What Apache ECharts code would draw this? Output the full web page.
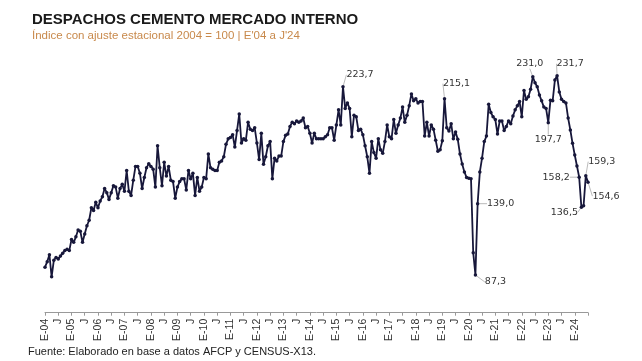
<!DOCTYPE html>
<html>
<head>
<meta charset="utf-8">
<script src="https://cdn.jsdelivr.net/npm/echarts@6/dist/echarts.min.js"></script>
<style>html,body{margin:0;padding:0;background:#fff;}#c{width:642px;height:361px;}</style>
</head>
<body>
<div id="c"></div>
<script>
// Monthly index values (seasonally adjusted, 2004 = 100), Jan 2004 - Jul 2024
const y2004 = [93, 97, 102, 86, 98, 100, 99, 101, 103, 105, 106, 105];
const y2005 = [113, 111, 115, 120, 119, 111, 117, 123, 127, 136, 134, 140];
const y2006 = [136, 141, 144, 150, 147, 142, 147, 152, 151, 143, 150, 153];
const y2007 = [148, 163, 148, 145, 156, 166, 166, 161, 150, 158, 165, 168];
const y2008 = [166, 164, 151, 181, 165, 152, 169, 159, 166, 156, 155, 143];
const y2009 = [151, 155, 157, 157, 149, 163, 157, 161, 145, 158, 148, 151];
const y2010 = [158, 157, 175, 165, 164, 163, 163, 169, 170, 173, 182, 186];
const y2011 = [187, 189, 180, 192, 204, 183, 186, 185, 198, 193, 192, 194];
const y2012 = [183, 171, 190, 167.5, 173, 181, 184, 157, 172, 170, 173.5, 173.5];
const y2013 = [184, 188.5, 189.5, 195, 198, 197, 199, 198, 199, 201, 194, 195];
const y2014 = [190, 183, 190, 186, 186, 186, 186, 187.5, 189, 194, 194, 185];
const y2015 = [196, 207, 196, 223.7, 208, 212, 208, 187.5, 203, 202, 192, 193];
const y2016 = [189, 181, 173, 161, 184, 176, 172, 186, 178, 175.5, 184, 196];
const y2017 = [187.5, 186, 200, 190, 196, 201, 209, 198, 203, 210, 218.5, 213.6];
const y2018 = [215, 212, 213, 213, 188, 198, 188, 196, 193, 185, 177, 178];
const y2019 = [184.6, 215.1, 194, 191.6, 197, 186, 191, 185.6, 175, 167.7, 162, 158];
const y2020 = [157.4, 157, 103.5, 87.3, 139.0, 162, 172, 184, 188, 211, 205, 202];
const y2021 = [200, 189.5, 199, 199, 192, 195, 199, 197, 202.5, 207, 210, 213];
const y2022 = [202, 221, 214.6, 216.5, 222, 231.0, 226.6, 223.7, 217.7, 213.5, 209, 208];
const y2023 = [197.7, 214, 213.6, 228.6, 231.7, 220, 214.6, 213, 212, 201, 192.4, 182.7];
const y2024 = [174.3, 166.3, 158.2, 136.5, 137.5, 159.3, 154.6];

const years = [2004,2005,2006,2007,2008,2009,2010,2011,2012,2013,2014,2015,2016,2017,2018,2019,2020,2021,2022,2023,2024];
const yearly = [y2004,y2005,y2006,y2007,y2008,y2009,y2010,y2011,y2012,y2013,y2014,y2015,y2016,y2017,y2018,y2019,y2020,y2021,y2022,y2023,y2024];
// tick labels: "E-yy" for January, "J" for July
const janLabel = 'E-';
const julLabel = 'J';
// indices (months from Jan 2004) of annotated points
const labeledIdx = [135, 181, 195, 196, 221, 228, 232, 242, 243, 245, 246];

// label placement offsets relative to the point (style only)
const labelOffsets = {
  135: [17, -12], 181: [12, -15], 195: [20, 7], 196: [23, 0],
  221: [-3, -13], 228: [0, 17], 232: [13, -12], 242: [-23, 0],
  243: [-17, 5], 245: [16, -14], 246: [18, 14]
};

const categories = [];
const values = [];
years.forEach((yr, k) => {
  yearly[k].forEach((v, m) => {
    const yy = String(yr).slice(2);
    categories.push(m === 0 ? janLabel + yy : (m === 6 ? julLabel : ''));
    values.push(v);
  });
});
// the axis ends at the last month without a trailing label
categories[categories.length - 1] = '';

const fmt = v => v.toFixed(1).replace('.', ',');
const seriesData = values.map((v, i) => labeledIdx.indexOf(i) >= 0
  ? { value: v, label: { show: true } }
  : v);

const chart = echarts.init(document.getElementById('c'), null, { renderer: 'canvas' });
chart.setOption({
  animation: false,
  backgroundColor: '#ffffff',
  title: [{
    text: 'DESPACHOS CEMENTO MERCADO INTERNO',
    subtext: "Índice con ajuste estacional 2004 = 100 | E'04 a J'24",
    left: 32, top: 12, itemGap: 3, padding: 0,
    textStyle: { fontFamily: 'Liberation Sans', fontSize: 15, fontWeight: 'bold', color: '#1a1a1a' },
    subtextStyle: { fontFamily: 'Liberation Sans', fontSize: 11.5, color: '#c8894b' }
  }, {
    text: 'Fuente: Elaborado en base a datos AFCP y CENSUS-X13.',
    left: 28, top: 346, padding: 0,
    textStyle: { fontFamily: 'Liberation Sans', fontSize: 11, fontWeight: 'normal', color: '#222' }
  }],
  grid: { left: 45, right: 54, top: 50.5, bottom: 48.3, containLabel: false },
  xAxis: {
    type: 'category',
    data: categories,
    boundaryGap: false,
    axisLine: { show: true, lineStyle: { color: '#999', width: 1 } },
    axisTick: { show: true, interval: 5, length: 3, lineStyle: { color: '#999' } },
    axisLabel: {
      interval: 5, rotate: 90, margin: 6,
      fontFamily: 'Liberation Sans', fontSize: 10.5, color: '#333'
    },
    splitLine: { show: false }
  },
  yAxis: {
    type: 'value', min: 60, max: 250, show: false,
    splitLine: { show: false }
  },
  series: [{
    type: 'line',
    data: seriesData,
    symbol: 'circle',
    symbolSize: 3.5,
    showSymbol: true,
    showAllSymbol: true,
    itemStyle: { color: '#17173a' },
    lineStyle: { color: '#17173a', width: 1.8 },
    label: {
      show: false,
      formatter: p => fmt(p.value),
      fontFamily: 'DejaVu Sans', fontSize: 9.5, color: '#333'
    },
    labelLine: { show: true, lineStyle: { color: '#aaa', width: 0.8 } },
    labelLayout: function (params) {
      const off = labelOffsets[params.dataIndex];
      if (!off) return {};
      const r = params.rect;
      return {
        x: r.x + r.width / 2 + off[0],
        y: r.y + r.height / 2 + off[1],
        align: 'center', verticalAlign: 'middle'
      };
    }
  }]
});
</script>
</body>
</html>
